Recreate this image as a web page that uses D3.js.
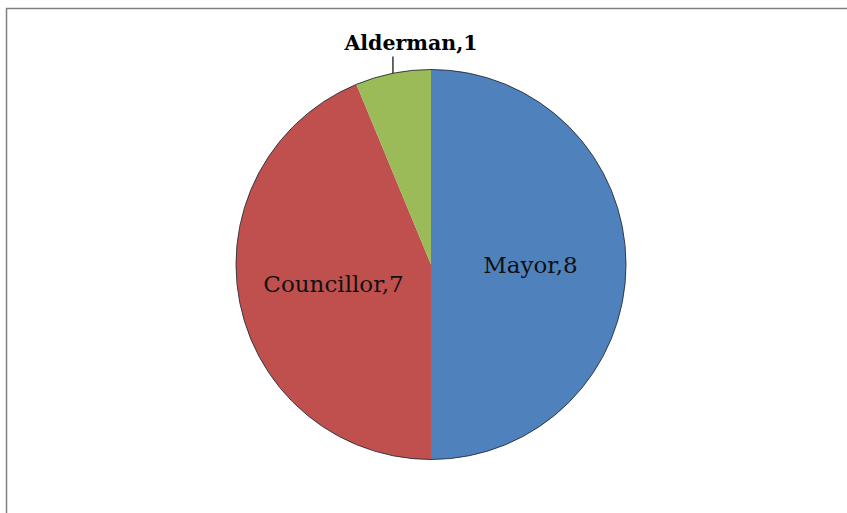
<!DOCTYPE html>
<html>
<head>
<meta charset="utf-8">
<script src="https://cdn.jsdelivr.net/npm/d3@7"></script>
<style>
  html, body { margin: 0; padding: 0; background: #ffffff; }
  svg { display: block; }
</style>
</head>
<body>
<svg id="chart" width="847" height="513"></svg>
<script>
// Office positions held
const categories = ["Mayor", "Councillor", "Alderman"];
const values = [8, 7, 1];
const colors = ["#4F81BD", "#C0504D", "#9BBB59"];

const W = 847, H = 513;
const cx = 431, cy = 264.5, R = 195;

const svg = d3.select("#chart");

// chart frame (right and bottom edges run off the page)
svg.append("rect")
  .attr("x", 6.5).attr("y", 8.5)
  .attr("width", 900).attr("height", 600)
  .attr("fill", "#ffffff")
  .attr("stroke", "#808080")
  .attr("stroke-width", 1.5);

const data = categories.map((c, i) => ({ name: c, value: values[i], color: colors[i] }));

const pie = d3.pie().value(d => d.value).sort(null);
const arcs = pie(data);

const arc = d3.arc().innerRadius(0).outerRadius(R);
const labelArc = d3.arc().innerRadius(R * 0.51).outerRadius(R * 0.51);

const g = svg.append("g").attr("transform", `translate(${cx},${cy})`);

g.selectAll("path.slice")
  .data(arcs)
  .join("path")
  .attr("class", "slice")
  .attr("d", arc)
  .attr("fill", d => d.data.color);

// thin dark rim around the pie
g.append("circle")
  .attr("r", R)
  .attr("fill", "none")
  .attr("stroke", "#26303c")
  .attr("stroke-opacity", 0.9)
  .attr("stroke-width", 1);

const font = "'DejaVu Serif', 'Liberation Serif', serif";

// inside labels for the large slices
arcs.filter(d => d.data.value > 1).forEach(d => {
  const [x, y] = labelArc.centroid(d);
  g.append("text")
    .attr("x", x)
    .attr("y", y + 8.5)
    .attr("text-anchor", "middle")
    .attr("font-family", font)
    .attr("font-size", 23)
    .attr("fill", "#111111")
    .text(`${d.data.name},${d.data.value}`);
});

// outside label with a leader line for the small slice
arcs.filter(d => d.data.value === 1).forEach(d => {
  const mid = (d.startAngle + d.endAngle) / 2;
  const ex = R * Math.sin(mid), ey = -R * Math.cos(mid);
  const topY = -R - 13;
  g.append("line")
    .attr("x1", ex).attr("y1", ey)
    .attr("x2", ex).attr("y2", topY)
    .attr("stroke", "#000000")
    .attr("stroke-width", 1.2);
  g.append("text")
    .attr("x", ex + 18)
    .attr("y", topY - 6.5)
    .attr("text-anchor", "middle")
    .attr("font-family", font)
    .attr("font-weight", "bold")
    .attr("font-size", 20.5)
    .attr("fill", "#000000")
    .text(`${d.data.name},${d.data.value}`);
});
</script>
</body>
</html>
